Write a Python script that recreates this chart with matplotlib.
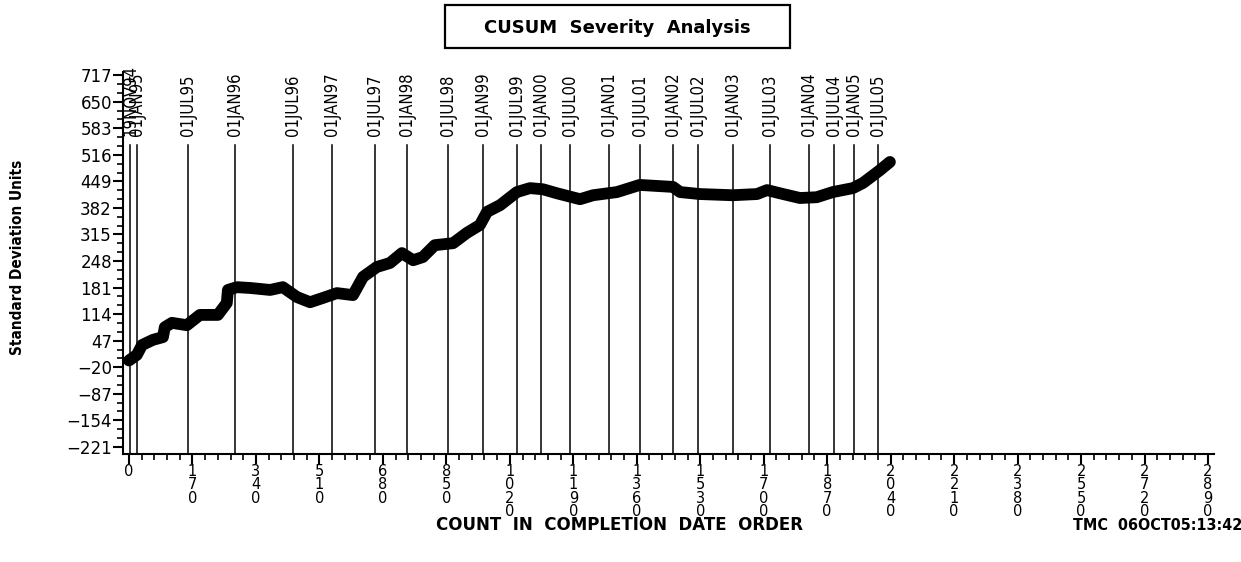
import numpy as np
import matplotlib
matplotlib.use('Agg')
import matplotlib.pyplot as plt
from matplotlib.patches import Rectangle

# CUSUM curve (count, standard deviation units)
count = [0, 21, 35, 64, 91, 96, 115, 155, 190, 238, 262, 265, 289, 324, 378,
         412, 450, 485, 520, 557, 600, 627, 664, 699, 731, 761, 787, 819, 868,
         905, 940, 959, 994, 1039, 1074, 1109, 1146, 1208, 1243, 1307, 1368,
         1457, 1476, 1529, 1617, 1682, 1709, 1743, 1797, 1842, 1885, 1939,
         1966, 2011, 2038]
cusum = [-3, 11, 36, 49, 56, 81, 92, 86, 112, 112, 142, 175, 182, 180, 175,
         182, 157, 144, 155, 167, 162, 208, 233, 243, 268, 250, 258, 288, 293,
         319, 339, 372, 389, 422, 432, 429, 419, 404, 414, 422, 440,
         435, 422, 417, 414, 417, 427, 419, 407, 409, 422, 432,
         445, 477, 498]

# date reference lines
date_pos = [3, 21, 159, 284, 440, 545, 659, 744, 855, 947, 1038, 1103, 1182,
            1286, 1368, 1458, 1525, 1617, 1718, 1822, 1889, 1942, 2007]
date_lbl = ['19NOV94', '01JAN95', '01JUL95', '01JAN96', '01JUL96', '01JAN97',
            '01JUL97', '01JAN98', '01JUL98', '01JAN99', '01JUL99', '01JAN00',
            '01JUL00', '01JAN01', '01JUL01', '01JAN02', '01JUL02', '01JAN03',
            '01JUL03', '01JAN04', '01JUL04', '01JAN05', '01JUL05']

xticks = list(range(0, 2891, 170))
yticks = list(range(-221, 718, 67))

fig = plt.figure(figsize=(12.41, 5.62), dpi=100)
ax = fig.add_axes([123/1241, 108/562, (1214-123)/1241, (454-72)/562])

ax.plot(count, cusum, color='black', linewidth=8.5,
        solid_capstyle='round', solid_joinstyle='round', zorder=3)

for p, l in zip(date_pos, date_lbl):
    ax.plot([p, p], [-239, 540], color='black', linewidth=1.1, zorder=2)
    ax.text(p, 563, l, rotation=90, ha='center', va='bottom',
            fontsize=12, fontstretch='condensed')

ax.set_xlim(-16, 2906)
ax.set_ylim(-239, 725)

ax.set_xticks(xticks)
ax.set_xticklabels(['\n'.join(str(v)) for v in xticks], fontsize=10.5,
                   linespacing=0.88, va='top')
ax.set_xticks(np.arange(0, 2891, 34), minor=True)
ax.set_yticks(yticks)
ax.set_yticklabels([str(v).replace('-', '\u2212') for v in yticks], fontsize=12)
ax.set_yticks(np.arange(-221, 718, 67/3), minor=True)

for s in ['top', 'right']:
    ax.spines[s].set_visible(False)
for s in ['left', 'bottom']:
    ax.spines[s].set_linewidth(1.5)
ax.tick_params(which='major', length=7, width=1.5, direction='out', pad=1)
ax.tick_params(axis='x', which='major', pad=0)
ax.tick_params(which='minor', length=4, width=1.2, direction='out')

fig.text(18/1241, 1 - 257/562, 'Standard Deviation Units', rotation=90,
         ha='center', va='center', fontsize=11, fontweight='bold',
         fontstretch='condensed')

# title box
fig.patches.append(Rectangle((445/1241, 1 - 48/562), 345/1241, 43/562,
                             transform=fig.transFigure, fill=False,
                             edgecolor='black', linewidth=1.6))
fig.text(617/1241, 1 - 28/562, 'CUSUM  Severity  Analysis', ha='center',
         va='center', fontsize=13, fontweight='heavy')

fig.text(620/1241, 1 - 525/562, 'COUNT  IN  COMPLETION  DATE  ORDER',
         ha='center', va='center', fontsize=12, fontweight='heavy')
fig.text(1073/1241, 1 - 525/562, 'TMC  06OCT05:13:42', ha='left',
         va='center', fontsize=11.5, fontweight='bold', fontstretch='condensed')

fig.savefig('out.png', dpi=100)
